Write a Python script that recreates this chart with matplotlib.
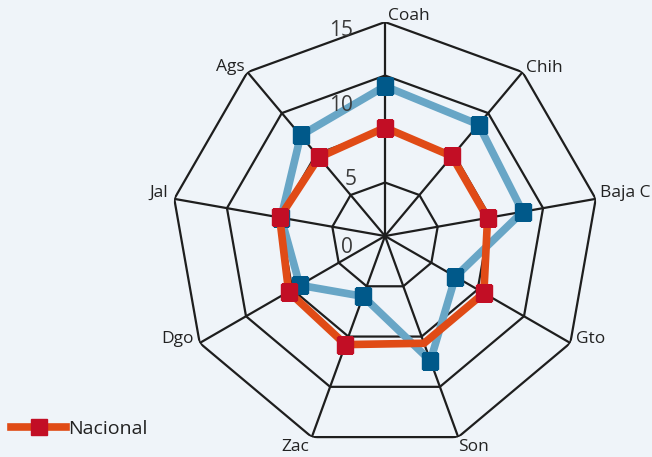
import matplotlib.pyplot as plt
import numpy as np

categories = ["Coah", "Chih", "Baja C", "Gto", "Son", "Zac", "Dgo", "Jal", "Ags"]
nacional = [7.6, 7.3, 7.3, 8.0, 8.0, 8.1, 7.8, 7.5, 7.2]
estatal = [10.5, 10.2, 9.8, 5.7, 9.3, 4.5, 6.9, 7.4, 9.2]
ring_levels = [3.75, 7.5, 11.25, 15]
r_max = 15
r_tick_values = [0, 5, 10, 15]
nacional_marker_skip = ["Son"]

BG = "#eff4f9"
GRID = "#1e1e1e"
BLUE_LINE = "#68a6c6"
BLUE_MARK = "#00598a"
ORANGE_LINE = "#e04b16"
RED_MARK = "#c20e25"

plt.rcParams["font.family"] = ["Open Sans", "DejaVu Sans"]

fig = plt.figure(figsize=(6.52, 4.57), dpi=100, facecolor=BG)
ax = fig.add_axes([0.2623, 0.0153, 0.6564, 0.9365], projection="polar")
ax.set_facecolor(BG)
ax.patch.set_alpha(0)
ax.set_theta_zero_location("N")
ax.set_theta_direction(-1)
ax.set_ylim(0, r_max)
ax.grid(False)
ax.spines["polar"].set_visible(False)
ax.set_xticks([])
ax.set_yticks([])

n = len(categories)
angles = np.arange(n) * 2 * np.pi / n
closed = np.append(angles, angles[0])

# polygon rings and spokes
for level in ring_levels:
    ax.plot(closed, [level] * (n + 1), color=GRID, lw=1.6, zorder=1)
for theta in angles:
    ax.plot([theta, theta], [0, r_max], color=GRID, lw=1.6, zorder=1)

# series without legend entry (blue)
ax.plot(closed, estatal + estatal[:1], color=BLUE_LINE, lw=5.5, zorder=2,
        solid_joinstyle="miter")
ax.plot(angles, estatal, ls="none", marker="s", ms=11, color=BLUE_MARK, zorder=3)

# Nacional series
ax.plot(closed, nacional + nacional[:1], color=ORANGE_LINE, lw=5.5, zorder=4,
        solid_joinstyle="miter")
keep = [i for i, c in enumerate(categories) if c not in nacional_marker_skip]
ax.plot(angles[keep], np.array(nacional)[keep], ls="none", marker="s", ms=11,
        color=RED_MARK, zorder=5)

# category labels at outer vertices
label_offsets = {
    "Coah": (3, 6, "left"),
    "Chih": (3, 4, "left"),
    "Baja C": (4, 6, "left"),
    "Gto": (6, 4, "left"),
    "Son": (0, -10, "left"),
    "Zac": (-3, -10, "right"),
    "Dgo": (-6, 4, "right"),
    "Jal": (-6, 6, "right"),
    "Ags": (-3, 5, "right"),
}
for theta, name in zip(angles, categories):
    dx, dy, ha = label_offsets[name]
    ax.annotate(name, xy=(theta, r_max), xytext=(dx, dy), textcoords="offset pixels",
                ha=ha, va="center", fontsize=12.5, color="#222222",
                annotation_clip=False)

# radial value labels along the Coah axis
value_offsets = [(-32, -11), (-28, -15), (-32, -12), (-32, -8)]
for value, (dx, dy) in zip(r_tick_values, value_offsets):
    ax.annotate(str(value), xy=(0, value), xytext=(dx, dy), textcoords="offset pixels",
                ha="right", va="center", fontsize=15, color="#3a3a3a",
                annotation_clip=False)

handle = plt.Line2D([], [], color=ORANGE_LINE, lw=5.5, marker="s", ms=11,
                    markerfacecolor=RED_MARK, markeredgecolor=RED_MARK)
fig.legend([handle], ["Nacional"], loc="center left", bbox_to_anchor=(0.008, 0.062),
           frameon=False, fontsize=14, handlelength=2.85, handletextpad=0.1,
           borderaxespad=0.0, borderpad=0.3, labelcolor="#222222")

fig.savefig("out.png", dpi=100, facecolor=BG)
